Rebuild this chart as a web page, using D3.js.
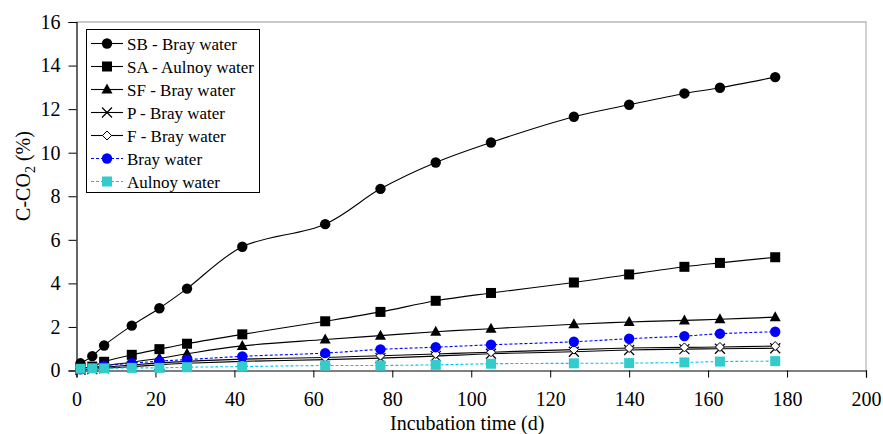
<!DOCTYPE html>
<html>
<head>
<meta charset="utf-8">
<script src="https://cdn.jsdelivr.net/npm/d3@7"></script>
<style>
  html, body { margin: 0; padding: 0; background: #fff; }
  svg { display: block; }
  svg text { font-family: "Liberation Serif", Tinos, "Times New Roman", Times, "DejaVu Serif", serif !important; fill: #000; }
</style>
</head>
<body>
<svg id="chart" width="883" height="434"></svg>
<script>
// ---- Data ----
const days = [1, 4, 7, 14, 21, 28, 42, 63, 77, 91, 105, 126, 140, 154, 163, 177];
const sbBray   = [0.33, 0.66, 1.15, 2.06, 2.86, 3.76, 5.68, 6.72, 8.34, 9.55, 10.47, 11.65, 12.2, 12.72, 12.98, 13.47];
const saAulnoy = [0.10, 0.18, 0.40, 0.72, 0.98, 1.23, 1.66, 2.26, 2.69, 3.20, 3.56, 4.04, 4.41, 4.76, 4.94, 5.20];
const sfBray   = [0.05, 0.12, 0.22, 0.38, 0.56, 0.77, 1.13, 1.42, 1.60, 1.78, 1.92, 2.12, 2.23, 2.30, 2.35, 2.45];
const pBray    = [0.03, 0.06, 0.10, 0.18, 0.26, 0.33, 0.42, 0.50, 0.57, 0.66, 0.77, 0.86, 0.94, 0.98, 1.00, 1.02];
const fBray    = [0.05, 0.10, 0.15, 0.25, 0.35, 0.42, 0.52, 0.60, 0.68, 0.76, 0.84, 0.96, 1.03, 1.06, 1.08, 1.12];
const bray     = [0.05, 0.12, 0.22, 0.33, 0.43, 0.50, 0.65, 0.80, 0.97, 1.07, 1.18, 1.32, 1.46, 1.58, 1.69, 1.78];
const aulnoy   = [0.08, 0.10, 0.10, 0.12, 0.12, 0.15, 0.18, 0.23, 0.23, 0.26, 0.31, 0.33, 0.34, 0.37, 0.41, 0.43];

const seriesNames = ["SB - Bray water", "SA - Aulnoy water", "SF - Bray water", "P - Bray water", "F - Bray water", "Bray water", "Aulnoy water"];
const seriesValues = [sbBray, saAulnoy, sfBray, pBray, fBray, bray, aulnoy];
const seriesMarkers = ["circle", "square", "triangle", "x", "diamond", "circle", "square"];
const seriesColors = ["#000", "#000", "#000", "#000", "#000", "#0000ff", "#33cccc"];
const seriesLineColors = ["#000", "#000", "#000", "#000", "#000", "#0000ff", "#00c4f0"];
const seriesDash = [null, null, null, null, null, "3,2", "3,2"];

const xTicks = [0, 20, 40, 60, 80, 100, 120, 140, 160, 180, 200];
const yTicks = [0, 2, 4, 6, 8, 10, 12, 14, 16];

// ---- Layout ----
const svg = d3.select("#chart");
const pLeft = 76.5, pRight = 866, pTop = 22, pBottom = 370.5;
const x = d3.scaleLinear().domain([0, 200]).range([pLeft, pRight]);
const y = d3.scaleLinear().domain([0, 16]).range([pBottom, pTop]);
const serif = '"Liberation Serif", Tinos, "Times New Roman", Times, "DejaVu Serif", serif';

// plot frame (top & right, gray)
svg.append("path")
  .attr("d", `M${pLeft},${pTop}H${pRight}V${pBottom}`)
  .attr("fill", "none").attr("stroke", "#b8b8b8").attr("stroke-width", 1.3);

// axes
const xAxis = svg.append("g").attr("transform", `translate(0,${pBottom})`)
  .call(d3.axisBottom(x).tickValues(xTicks).tickSize(7).tickPadding(14).tickFormat(d3.format("d")));
const yAxis = svg.append("g").attr("transform", `translate(${pLeft},0)`)
  .call(d3.axisLeft(y).tickValues(yTicks).tickSize(8).tickPadding(8).tickFormat(d3.format("d")));
[xAxis, yAxis].forEach(a => {
  a.attr("font-family", serif).attr("font-size", 20);
  a.selectAll("path.domain").attr("stroke", "#000").attr("stroke-width", 1.2);
  a.selectAll(".tick line").attr("stroke", "#000").attr("stroke-width", 1);
  a.selectAll(".tick text").attr("fill", "#000");
});

// axis titles
svg.append("text").attr("x", (pLeft + pRight) / 2 - 4).attr("y", 430)
  .attr("text-anchor", "middle").attr("font-family", serif).attr("font-size", 20).text("Incubation time (d)");
const yt = svg.append("text").attr("transform", "translate(30,176) rotate(-90)")
  .attr("text-anchor", "middle").attr("font-family", serif).attr("font-size", 20);
yt.append("tspan").text("C-CO");
yt.append("tspan").attr("font-size", 14).attr("dy", 5).text("2");
yt.append("tspan").attr("dy", -5).text(" (%)");

// marker drawing
function drawMarker(g, type, color) {
  if (type === "circle") {
    g.append("circle").attr("r", 5.2).attr("fill", color);
  } else if (type === "square") {
    g.append("rect").attr("x", -5).attr("y", -5).attr("width", 10).attr("height", 10).attr("fill", color);
  } else if (type === "triangle") {
    g.append("path").attr("d", "M0,-6L5.5,4L-5.5,4Z").attr("fill", color);
  } else if (type === "x") {
    g.append("path").attr("d", "M-5,-5L5,5M-5,5L5,-5").attr("stroke", color).attr("stroke-width", 1.2).attr("fill", "none");
  } else if (type === "diamond") {
    g.append("path").attr("d", "M0,-4.5L4.5,0L0,4.5L-4.5,0Z").attr("fill", "#fff").attr("stroke", color).attr("stroke-width", 1);
  }
}

const line = d3.line()
  .x((d, i) => x(days[i]))
  .y(d => y(d))
  .curve(d3.curveCatmullRom.alpha(0.5));

seriesValues.forEach((vals, si) => {
  const g = svg.append("g");
  g.append("path").datum(vals).attr("d", line)
    .attr("fill", "none").attr("stroke", seriesLineColors[si]).attr("stroke-width", 1.1)
    .attr("stroke-dasharray", seriesDash[si]);
  vals.forEach((v, i) => {
    const m = g.append("g").attr("transform", `translate(${x(days[i])},${y(v)})`);
    drawMarker(m, seriesMarkers[si], seriesColors[si]);
  });
});

// legend
const lg = svg.append("g").attr("font-family", serif);
lg.append("rect").attr("x", 86.5).attr("y", 29.5).attr("width", 173).attr("height", 163)
  .attr("fill", "#fff").attr("stroke", "#000").attr("stroke-width", 1);
seriesNames.forEach((name, i) => {
  const cy = 43.5 + i * 23;
  lg.append("line").attr("x1", 91).attr("x2", 123).attr("y1", cy).attr("y2", cy)
    .attr("stroke", seriesLineColors[i]).attr("stroke-width", 1.1).attr("stroke-dasharray", seriesDash[i]);
  const m = lg.append("g").attr("transform", `translate(107,${cy})`);
  drawMarker(m, seriesMarkers[i], seriesColors[i]);
  lg.append("text").attr("x", 127).attr("y", cy + 6).attr("font-size", 17).text(name);
});
</script>
</body>
</html>
